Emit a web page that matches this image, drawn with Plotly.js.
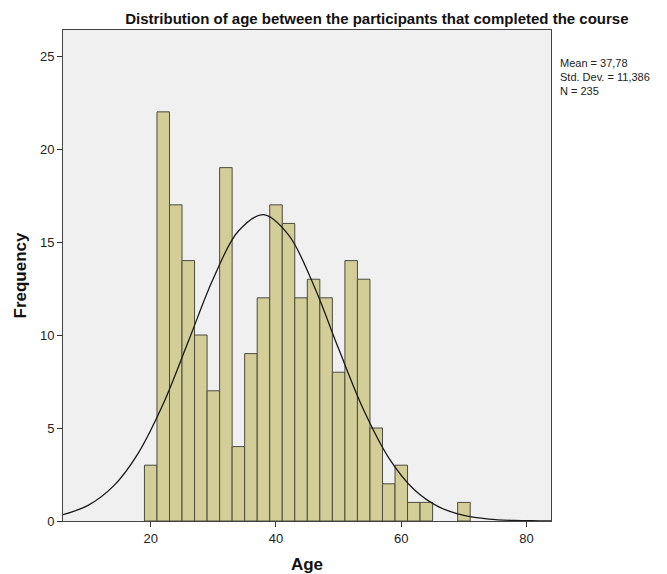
<!DOCTYPE html>
<html>
<head>
<meta charset="utf-8">
<script src="https://cdn.plot.ly/plotly-3.0.1.min.js"></script>
<style>html,body{margin:0;padding:0;background:#fff;}#chart{width:667px;height:574px;}</style>
</head>
<body>
<div id="chart"></div>
<script>
// Histogram bins (centers, width 2) and counts
const binCenters = [20,22,24,26,28,30,32,34,36,38,40,42,44,46,48,50,52,54,56,58,60,62,64,70];
const counts     = [3,22,17,14,10,7,19,4,9,12,17,16,12,13,12,8,14,13,5,2,3,1,1,1];
const binWidth = 2;

// Normal curve
const curveX = [6,10,14,18,22,26,30,34,38,42,46,50,54,58,62,66,70,74,78,82,84];
const curveY = [0.34,0.84,1.86,3.64,6.30,9.65,13.04,15.59,16.47,15.38,12.69,9.26,5.97,3.40,1.71,0.76,0.30,0.10,0.03,0.01,0.0];

const xTicks = [20,40,60,80];
const yTicks = [0,5,10,15,20,25];

const statsLines = ["Mean = 37,78","Std. Dev. = 11,386","N = 235"];
const statsY = [0.9328, 0.9043, 0.8758];

const fontFam = '"Liberation Sans", Arial, sans-serif';

const traces = [
  {
    type: 'bar',
    x: binCenters,
    y: counts,
    width: binCenters.map(() => binWidth),
    marker: {color: '#D3CE98', line: {color: '#4B4B40', width: 1}},
    hoverinfo: 'x+y',
    showlegend: false
  },
  {
    type: 'scatter',
    mode: 'lines',
    x: curveX,
    y: curveY,
    line: {color: '#1a1a1a', width: 1.3, shape: 'spline', smoothing: 1},
    showlegend: false,
    hoverinfo: 'skip',
    cliponaxis: true
  }
];

const layout = {
  width: 667,
  height: 574,
  margin: {l: 63, r: 116, t: 30, b: 53},
  paper_bgcolor: '#ffffff',
  plot_bgcolor: '#F0F0F0',
  bargap: 0,
  title: {
    text: 'Distribution of age between the participants that completed the course',
    font: {family: fontFam, size: 15, color: '#111', weight: 'bold'},
    xref: 'container', x: 0.565, xanchor: 'center',
    yref: 'container', y: 0.968, yanchor: 'middle'
  },
  xaxis: {
    range: [6, 83.9],
    tickvals: xTicks,
    ticktext: xTicks.map(String),
    ticks: 'outside', ticklen: 5, tickcolor: '#333', tickwidth: 1,
    showgrid: false, zeroline: false,
    showline: true, linecolor: '#444', linewidth: 1, mirror: true,
    tickfont: {family: fontFam, size: 13, color: '#222'},
    title: {text: 'Age', font: {family: fontFam, size: 17, color: '#111', weight: 'bold'}, standoff: 13}
  },
  yaxis: {
    range: [0, 26.4],
    tickvals: yTicks,
    ticktext: yTicks.map(String),
    ticks: 'outside', ticklen: 5, tickcolor: '#333', tickwidth: 1,
    showgrid: false, zeroline: false,
    showline: true, linecolor: '#444', linewidth: 1, mirror: true,
    tickfont: {family: fontFam, size: 13, color: '#222'},
    title: {text: 'Frequency', font: {family: fontFam, size: 17, color: '#111', weight: 'bold'}, standoff: 8}
  },
  annotations: statsLines.map((t, i) => ({
    xref: 'paper', yref: 'paper',
    x: 1.016, y: statsY[i], xanchor: 'left', yanchor: 'middle',
    text: t, borderpad: 0,
    showarrow: false, align: 'left',
    font: {family: fontFam, size: 11, color: '#222'}
  }))
};

Plotly.newPlot('chart', traces, layout, {displayModeBar: false, staticPlot: true});
</script>
</body>
</html>
